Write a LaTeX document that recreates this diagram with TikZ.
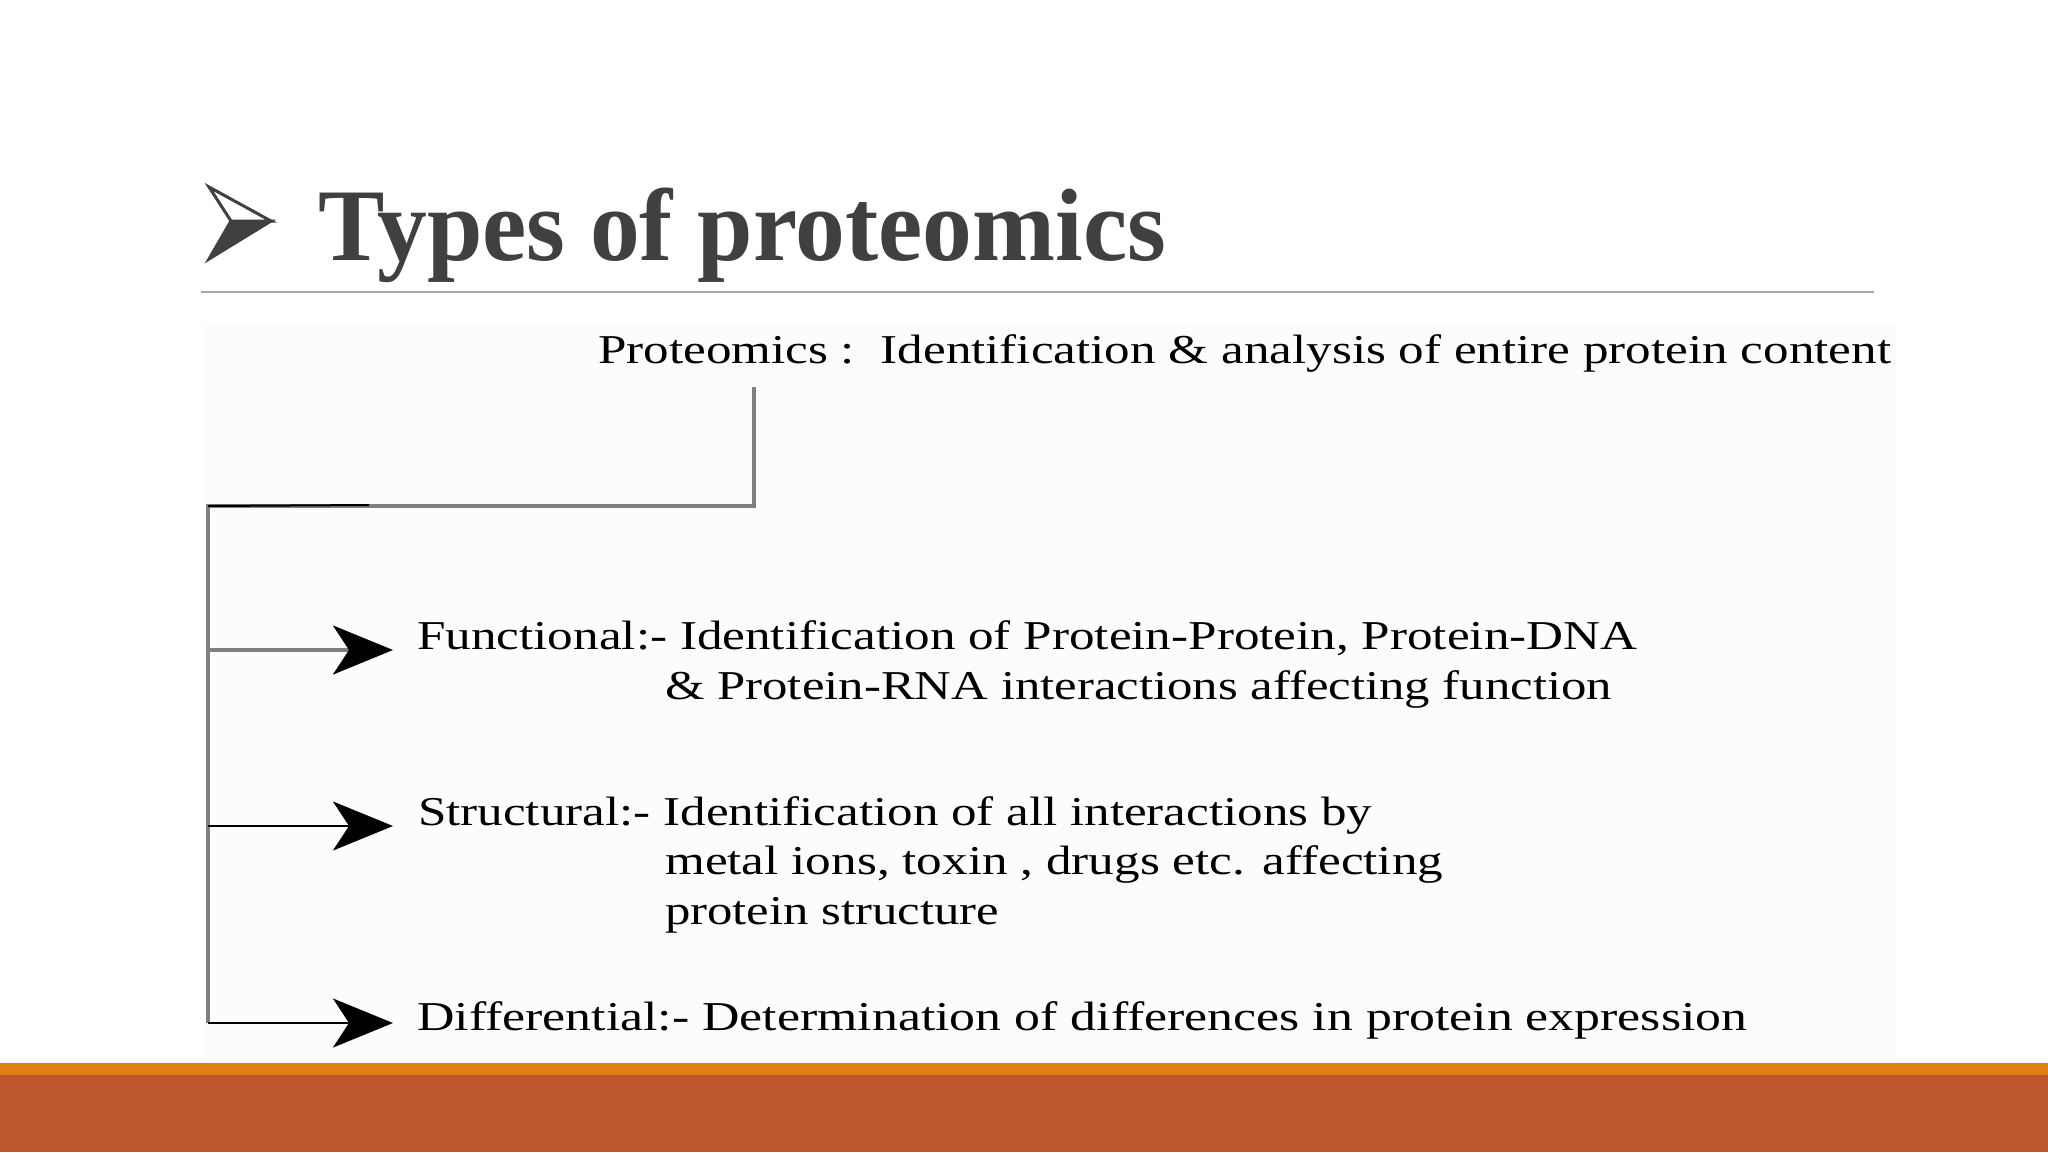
\documentclass[tikz,border=0pt]{standalone}
\usepackage{fontspec}
\setmainfont{Liberation Serif}
\usepackage{graphicx}
\usetikzlibrary{arrows.meta}
\definecolor{titlegray}{HTML}{404040}
\definecolor{rulegray}{HTML}{A6A6A6}
\definecolor{linegray}{HTML}{808080}
\definecolor{barorange}{HTML}{E08012}
\definecolor{barrust}{HTML}{BE572C}
\definecolor{imgbg}{HTML}{FCFCFC}
\newcommand{\fitw}[2]{\resizebox{#1pt}{\height}{#2}}
\begin{document}
\begin{tikzpicture}[x=1pt,y=-1pt,
  body/.style={anchor=base west, inner sep=0pt, font=\fontsize{41}{50}\selectfont, text=black},
  headline/.style={anchor=base west, inner sep=0pt, font=\bfseries\fontsize{103}{120}\selectfont, text=titlegray},
  trunkline/.style={draw=linegray, line width=4pt, line join=miter},
  branch/.style={-{Stealth[length=60pt,width=49pt,inset=16pt,color=black]}, line width=2.5pt, draw=black},
]
\useasboundingbox (0,0) rectangle (2048,1152);
\fill[white] (0,0) rectangle (2048,1152);
\fill[imgbg] (206,322) rectangle (1896,1063);

% title
\filldraw[titlegray, line width=3pt, line join=miter] (209,259) -- (231,221) -- (271,221) -- cycle;
\draw[titlegray, line width=3pt, fill=white, line join=miter] (209,187) -- (271,221) -- (231,221) -- cycle;
\node[headline] (title) at (318,260) {\fitw{848}{Types of proteomics}};
\draw[rulegray, line width=2pt] (201,292) -- (1874,292);

% texts
\node[body] (prot) at (598,363) {\fitw{1293}{Proteomics :~~Identification \& analysis of entire protein content}};
\node[body] (func1) at (417,649) {\fitw{1220}{Functional:- Identification of Protein-Protein, Protein-DNA}};
\node[body] (func2) at (665,699) {\fitw{947}{\& Protein-RNA interactions affecting function}};
\node[body] (str1) at (418,825) {\fitw{954}{Structural:- Identification of all interactions by}};
\node[body] (str2) at (665,874) {\fitw{778}{metal ions, toxin , drugs etc. affecting}};
\node[body] (str3) at (665,924) {\fitw{334}{protein structure}};
\node[body] (diff) at (417,1030) {\fitw{1330}{Differential:- Determination of differences in protein expression}};

% connectors
\coordinate (top) at (754,387);
\coordinate (corner) at (754,506);
\coordinate (trunk) at (208,506);
\coordinate (j1) at (208,650);
\coordinate (j2) at (208,826);
\coordinate (j3) at (208,1023);
\coordinate (t1) at (393,650);
\coordinate (t2) at (393,826);
\coordinate (t3) at (393,1023);
\coordinate (blk) at (369,505);

\draw[trunkline] (top) -- (corner) -- (trunk) -- (j3);
\draw[black, line width=2pt] (trunk) -- (blk);
\draw[branch, draw=linegray, line width=3.5pt] (j1) -- (t1);
\draw[branch] (j2) -- (t2);
\draw[branch] (j3) -- (t3);

% bottom bars
\fill[barorange] (0,1063) rectangle (2048,1075);
\fill[barrust] (0,1075) rectangle (2048,1152);
\end{tikzpicture}
\end{document}
